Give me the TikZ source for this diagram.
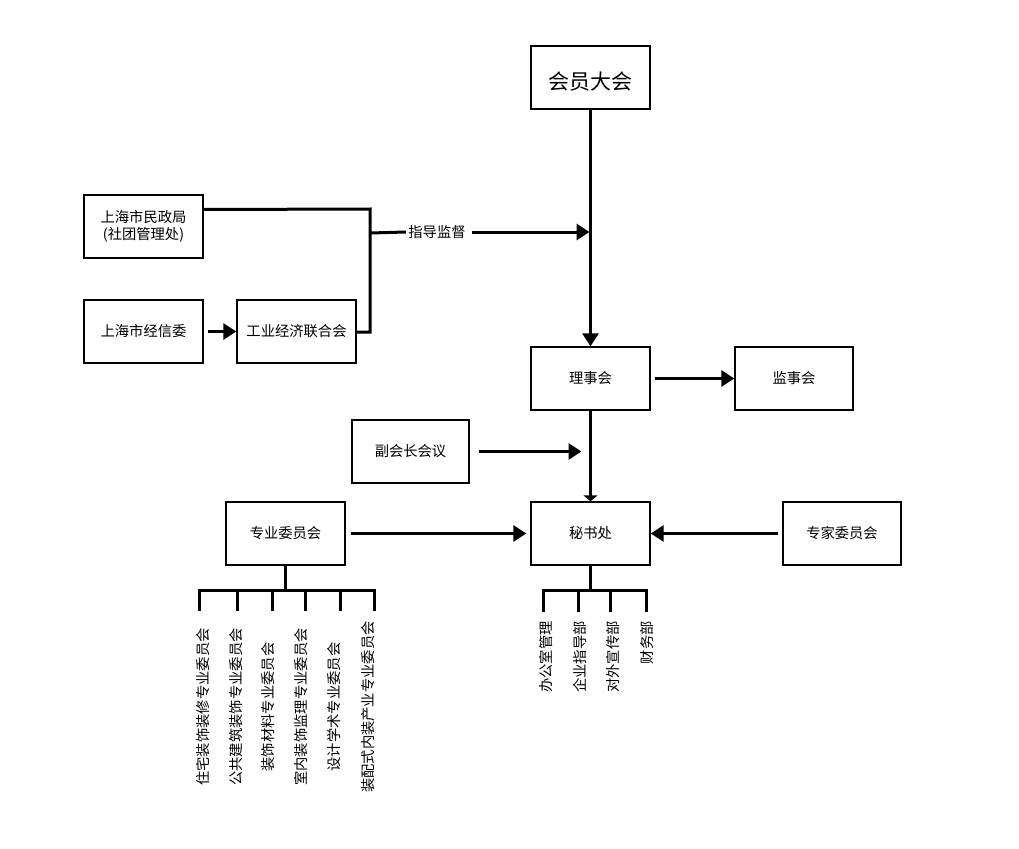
\documentclass[tikz,border=0pt]{standalone}
\usepackage{fontspec}
\setmainfont{Noto Sans CJK SC}
\usetikzlibrary{arrows.meta,calc}
\begin{document}
\begin{tikzpicture}[x=1pt,y=-1pt,
  box/.style={draw,line width=1.4pt,minimum width=119pt,minimum height=63pt,inner sep=0pt,
    font=\fontsize{14.3}{17}\selectfont,align=center},
  conn/.style={line width=3pt},
  arr/.style={conn,-{Triangle[length=13pt,width=16pt]}},
  smallarr/.style={conn,-{Triangle[length=6pt,width=14pt]}},
  leaf/.style={rotate=90,font=\fontsize{14.3}{16}\selectfont,inner sep=0pt}]
\useasboundingbox (0,0) rectangle (1019,848);

% boxes
\node[box] (hy) at (590.5,77.5) {};
\node[font=\fontsize{21}{24}\selectfont,inner sep=0pt] (hyt) at (590.5,82) {会员大会};
\node[box] (lsh) at (590.5,378.5) {理事会};
\node[box,minimum width=118pt] (jsh) at (794,378.5) {监事会};
\node[box] (mz) at (143.5,226.5) {上海市民政局\\(社团管理处)};
\node[box] (jxw) at (143.5,331.5) {上海市经信委};
\node[box] (gy) at (296.5,331.5) {工业经济联合会};
\node[box,minimum width=117pt] (fhz) at (410.5,451.5) {副会长会议};
\node[box] (msc) at (590.5,533.5) {秘书处};
\node[box] (zy) at (285.5,533.5) {专业委员会};
\node[box,minimum width=118pt] (zj) at (842,533.5) {专家委员会};

% main vertical
\draw[arr] (hy.south) -- (lsh.north);
\draw[arr,shorten <=4pt] (lsh.east) -- (jsh.west);
\draw[smallarr] (lsh.south) -- (msc.north);

% supervision
\coordinate (jtop) at (370,209);
\coordinate (jmid) at (370,233);
\coordinate (jbot) at (370,332);
\node[inner sep=2pt,font=\fontsize{14.3}{17}\selectfont] (zd) at (437,232) {指导监督};
\draw[conn] ([yshift=17pt]mz.east) -- (jtop) -- (jbot) -- (gy.east |- jbot);
\draw[conn] (jmid) -- (zd.west);
\draw[arr,shorten <=4pt,shorten >=1pt] (zd.east) -- (hy.south |- zd.east);
\draw[arr,shorten <=4pt] (jxw.east) -- (gy.west);

% vice-president meeting
\draw[arr,shorten <=9pt,shorten >=9pt] (fhz.east) -- (lsh.south |- fhz.east);

% to secretariat
\draw[arr,shorten <=5pt,shorten >=4pt] (zy.east) -- (msc.west);
\draw[arr,shorten <=4pt] (zj.west) -- (msc.east);

% left tree
\coordinate (zyb) at (zy.south |- 0,590);
\draw[conn] (zy.south) -- (zyb);
\foreach \i/\x in {1/199,2/237,3/272,4/305,5/340,6/374}{
  \coordinate (lt\i) at (\x,590);
  \coordinate (lb\i) at (\x,611);
}
\draw[conn] (lb1) -- (lt1) -- (lt6) -- (lb6);
\foreach \i in {2,3,4,5}{ \draw[conn] (lt\i) -- (lb\i); }
\node[leaf] (l1) at (203,707) {住宅装饰装修专业委员会};
\node[leaf] (l2) at (236,707) {公共建筑装饰专业委员会};
\node[leaf] (l3) at (268,707) {装饰材料专业委员会};
\node[leaf] (l4) at (301,707) {室内装饰监理专业委员会};
\node[leaf] (l5) at (334,707) {设计学术专业委员会};
\node[leaf] (l6) at (368,707) {装配式内装产业专业委员会};

% right tree
\coordinate (mscb) at (msc.south |- 0,590);
\draw[conn] (msc.south) -- (mscb);
\foreach \i/\x in {1/543,2/578,3/610,4/646}{
  \coordinate (rt\i) at (\x,590);
  \coordinate (rb\i) at (\x,612);
}
\draw[conn] (rb1) -- (rt1) -- (rt4) -- (rb4);
\foreach \i in {2,3}{ \draw[conn] (rt\i) -- (rb\i); }
\node[leaf,anchor=east] (r1) at (546,621) {办公室管理};
\node[leaf,anchor=east] (r2) at (580,621) {企业指导部};
\node[leaf,anchor=east] (r3) at (613,621) {对外宣传部};
\node[leaf,anchor=east] (r4) at (647,621) {财务部};
\end{tikzpicture}
\end{document}
